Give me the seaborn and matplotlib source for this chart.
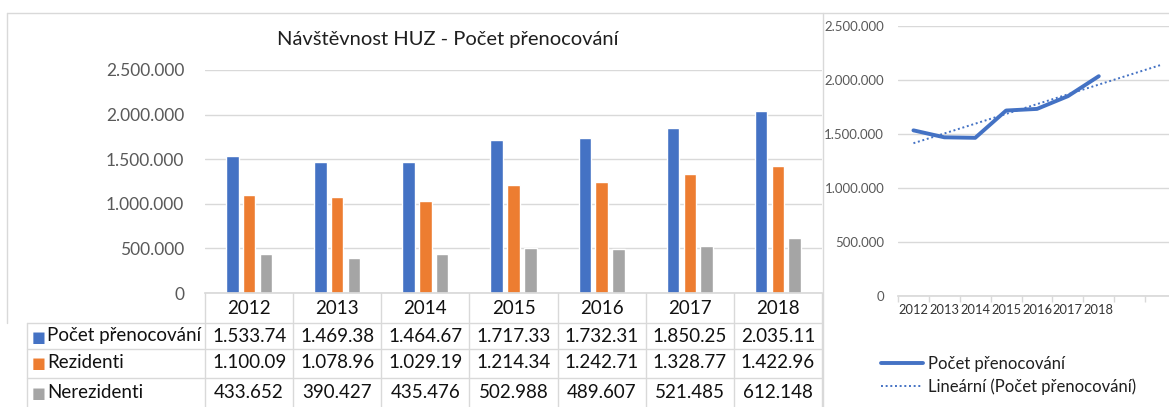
import numpy as np
import pandas as pd
import matplotlib
matplotlib.use('Agg')
import matplotlib.pyplot as plt
import seaborn as sns
from matplotlib.ticker import FuncFormatter, FixedLocator
from matplotlib.lines import Line2D
from matplotlib.transforms import blended_transform_factory

# data
years = ['2012', '2013', '2014', '2015', '2016', '2017', '2018']
pocet = [1533740, 1469380, 1464670, 1717330, 1732310, 1850250, 2035110]
rezidenti = [1100090, 1078960, 1029190, 1214340, 1242710, 1328770, 1422960]
nerezidenti = [433652, 390427, 435476, 502988, 489607, 521485, 612148]

# what the data table under the bars shows (Excel cut the numbers)
pocet_txt = ['1.533.74', '1.469.38', '1.464.67', '1.717.33', '1.732.31', '1.850.25', '2.035.11']
rezidenti_txt = ['1.100.09', '1.078.96', '1.029.19', '1.214.34', '1.242.71', '1.328.77', '1.422.96']
nerezidenti_txt = ['433.652', '390.427', '435.476', '502.988', '489.607', '521.485', '612.148']

series = ['Počet přenocování', 'Rezidenti', 'Nerezidenti']
colors = ['#4472C4', '#ED7D31', '#A5A5A5']
forecast = 2  # trendline goes 2 periods forward

sns.set_theme(style='white')
plt.rcParams['font.family'] = ['Lato', 'DejaVu Sans']

W, H = 1169, 407


def fy(ypx):
    # pixel row from the top -> figure fraction
    return (H - ypx) / H


def fmt(v, pos=None):
    return f'{int(v):,}'.replace(',', '.')


df = pd.DataFrame({'rok': years * 3,
                   'rada': np.repeat(series, len(years)),
                   'hodnota': pocet + rezidenti + nerezidenti})

fig = plt.figure(figsize=(W / 100, H / 100), dpi=100)

#%% left: clustered bars + data table
ax = fig.add_axes([205 / W, fy(293), 617 / W, (293 - 70) / H])
sns.barplot(data=df, x='rok', y='hodnota', hue='rada', palette=colors,
            width=0.57, gap=0.25, saturation=1, legend=False, ax=ax)
ax.set_ylim(0, 2500000)
ax.set_xlim(-0.5, len(years) - 0.5)
ax.set_yticks(np.arange(0, 2500001, 500000))
ax.yaxis.set_major_formatter(FuncFormatter(fmt))
ax.tick_params(axis='y', length=0, pad=15, labelsize=12.5, labelcolor='#595959')
ax.set_xticks([])
ax.set_xlabel('')
ax.set_ylabel('')
ax.grid(axis='y', color='#D9D9D9', linewidth=1)
ax.set_axisbelow(True)
for s in ax.spines.values():
    s.set_visible(False)
ax.spines['bottom'].set_visible(True)
ax.spines['bottom'].set_color('#D9D9D9')

fig.text(448 / W, fy(40), 'Návštěvnost HUZ - Počet přenocování',
         ha='center', va='center', fontsize=14.5, color='#1f1f1f')

tr = blended_transform_factory(ax.transData, fig.transFigure)
line_kw = dict(color='#D9D9D9', linewidth=1)

# table grid
for i in range(len(years) + 1):
    ax.add_line(Line2D([i - 0.5, i - 0.5], [fy(293), 0], transform=tr,
                       clip_on=False, **line_kw))
for ypx in [323, 349, 378]:
    fig.add_artist(Line2D([27 / W, 822 / W], [fy(ypx), fy(ypx)], **line_kw))
fig.add_artist(Line2D([27 / W, 27 / W], [fy(323), 0], **line_kw))

# chart frame
fig.add_artist(Line2D([7 / W, 1], [fy(13), fy(13)], **line_kw))
fig.add_artist(Line2D([7 / W, 7 / W], [fy(13), fy(323)], **line_kw))
fig.add_artist(Line2D([823 / W, 823 / W], [fy(13), 0], **line_kw))

# table text
for i, yr in enumerate(years):
    ax.text(i, fy(308), yr, transform=tr, ha='center', va='center',
            fontsize=13.5, color='#111111')
rows = [pocet_txt, rezidenti_txt, nerezidenti_txt]
row_y = [336, 363, 393]
for r, (name, col, vals, ypx) in enumerate(zip(series, colors, rows, row_y)):
    fig.text(32 / W, fy(ypx + 1), '■', ha='left', va='center', fontsize=10.5,
             color=col, family=['DejaVu Sans'])
    fig.text(47 / W, fy(ypx), name, ha='left', va='center',
             fontsize=13.5, color='#111111')
    for i, v in enumerate(vals):
        ax.text(i, fy(ypx), v, transform=tr, ha='center', va='center',
                fontsize=13.5, color='#111111')

#%% right: line + linear trend
n = len(years)
xpos = np.arange(n)
coef = np.polyfit(xpos, pocet, 1)
xtr = np.arange(n + forecast)
ytr = np.polyval(coef, xtr)

ax2 = fig.add_axes([898 / W, fy(296), 278 / W, (296 - 26) / H])
sns.lineplot(x=xpos, y=pocet, color='#4472C4', linewidth=2.8, ax=ax2)
sns.lineplot(x=xtr, y=ytr, color='#4472C4', linewidth=1.4,
             linestyle=(0, (1, 1.4)), ax=ax2)
ax2.set_ylim(0, 2500000)
ax2.set_xlim(-0.5, n + forecast - 0.5)
ax2.set_yticks(np.arange(0, 2500001, 500000))
ax2.yaxis.set_major_formatter(FuncFormatter(fmt))
ax2.set_xticks(xpos)
ax2.set_xticklabels(years)
ax2.xaxis.set_minor_locator(FixedLocator(np.arange(n + forecast + 1) - 0.5))
ax2.tick_params(axis='x', which='major', length=0, pad=6, labelsize=9.3,
                labelcolor='#333333')
ax2.tick_params(axis='x', which='minor', length=4, width=1, color='#D9D9D9',
                direction='out', bottom=True)
ax2.tick_params(axis='y', length=0, pad=10, labelsize=9.5, labelcolor='#595959')
ax2.grid(axis='y', color='#D9D9D9', linewidth=1)
for s in ax2.spines.values():
    s.set_visible(False)
ax2.spines['bottom'].set_visible(True)
ax2.spines['bottom'].set_color('#D9D9D9')

handles = [Line2D([], [], color='#4472C4', linewidth=2.8),
           Line2D([], [], color='#4472C4', linewidth=1.4, linestyle=(0, (1, 1.4)))]
fig.legend(handles, ['Počet přenocování', 'Lineární (Počet přenocování)'],
           loc='upper left', bbox_to_anchor=(866 / W, fy(341)), frameon=False,
           fontsize=12, handlelength=2.5, handletextpad=0.3, labelspacing=0.4,
           labelcolor='#1f1f1f')

fig.savefig('out.png', dpi=100)
